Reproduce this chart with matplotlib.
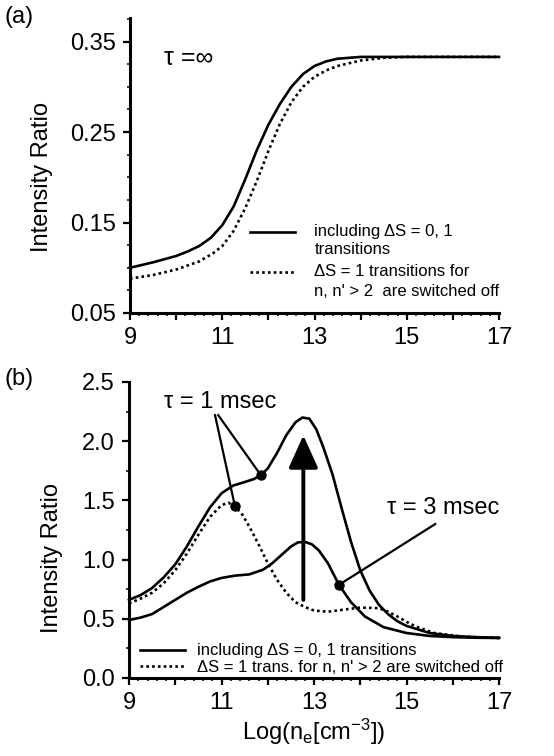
import numpy as np
import matplotlib
matplotlib.use("Agg")
import matplotlib.pyplot as plt
from matplotlib.ticker import MultipleLocator, FixedLocator, FuncFormatter

plt.rcParams["font.family"] = ["Liberation Sans", "DejaVu Sans"]
plt.rcParams["mathtext.default"] = "regular"

# panel (a): tau = infinity
xa_incl = [9, 9.5, 10, 10.25, 10.5, 10.75, 11, 11.25, 11.5, 11.75, 12, 12.25, 12.5,
           12.75, 13, 13.25, 13.5, 13.75, 14, 14.5, 15, 16, 17]
ya_incl = [0.100, 0.106, 0.113, 0.118, 0.124, 0.133, 0.147, 0.168, 0.198, 0.230, 0.258,
           0.281, 0.300, 0.314, 0.323, 0.328, 0.331, 0.332, 0.333, 0.333, 0.333, 0.333,
           0.333]
xa_off = [9, 9.5, 10, 10.5, 10.8, 11, 11.25, 11.5, 11.75, 12, 12.25, 12.5, 12.75,
          13, 13.25, 13.5, 14, 14.5, 15, 16, 17]
ya_off = [0.088, 0.092, 0.098, 0.107, 0.116, 0.124, 0.141, 0.166, 0.196, 0.229, 0.259,
          0.283, 0.300, 0.311, 0.318, 0.323, 0.329, 0.332, 0.333, 0.333, 0.333]

# panel (b): tau = 1 msec (both cases) and tau = 3 msec
xb_1ms = [9, 9.25, 9.5, 9.75, 10, 10.25, 10.5, 10.75, 11, 11.25, 11.5, 11.7, 11.85, 12,
          12.2, 12.4, 12.6, 12.75, 12.9, 13.05, 13.2, 13.4, 13.6, 13.8, 14, 14.2, 14.4,
          14.6, 14.8, 15, 15.5, 16, 16.5, 17]
yb_1ms = [0.66, 0.70, 0.76, 0.85, 0.96, 1.11, 1.28, 1.44, 1.56, 1.625, 1.655, 1.68,
          1.713, 1.77, 1.90, 2.05, 2.16, 2.20, 2.19, 2.10, 1.95, 1.72, 1.43, 1.15, 0.91,
          0.74, 0.62, 0.54, 0.48, 0.44, 0.38, 0.355, 0.345, 0.34]
xb_1ms_off = [9, 9.25, 9.5, 9.75, 10, 10.25, 10.5, 10.75, 11, 11.15, 11.29, 11.45, 11.6,
              11.8, 12, 12.2, 12.4, 12.6, 12.8, 13, 13.3, 13.6, 14, 14.4, 14.6, 14.8,
              15, 15.2, 15.6, 16.2, 17]
yb_1ms_off = [0.63, 0.67, 0.72, 0.80, 0.91, 1.05, 1.21, 1.36, 1.46, 1.48, 1.452, 1.38,
              1.28, 1.13, 0.97, 0.83, 0.72, 0.64, 0.60, 0.57, 0.56, 0.575, 0.595, 0.59,
              0.56, 0.52, 0.475, 0.435, 0.38, 0.35, 0.337]
xb_3ms = [9, 9.25, 9.5, 9.75, 10, 10.25, 10.5, 10.75, 11, 11.3, 11.6, 11.9, 12.1, 12.3,
          12.5, 12.65, 12.8, 12.95, 13.1, 13.3, 13.54, 13.8, 14.1, 14.5, 15, 15.5, 16,
          16.5, 17]
yb_3ms = [0.49, 0.51, 0.54, 0.60, 0.66, 0.72, 0.77, 0.815, 0.845, 0.865, 0.875, 0.915,
          0.97, 1.04, 1.11, 1.145, 1.15, 1.13, 1.08, 0.97, 0.787, 0.64, 0.52, 0.43,
          0.38, 0.355, 0.345, 0.34, 0.338]

# which points carry the annotation dots
mark_1ms = 12
mark_1ms_off = 10
mark_3ms = 20

x_ticks = [9, 11, 13, 15, 17]
ya_ticks = [0.05, 0.15, 0.25, 0.35]
yb_ticks = [0.0, 0.5, 1.0, 1.5, 2.0, 2.5]

leg_a = ["including \u0394S = 0, 1", "transitions",
         "\u0394S = 1 transitions for", "n, n' > 2  are switched off"]
leg_b = ["including \u0394S = 0, 1 transitions",
         "\u0394S = 1 trans. for n, n' > 2 are switched off"]

DOT = (0, (1, 1.2))
FS = 17
LW = 1.9


def style_axes(ax):
    for s in ["top", "right"]:
        ax.spines[s].set_visible(False)
    for s in ["left", "bottom"]:
        ax.spines[s].set_linewidth(2.2)
    ax.set_xlim(9, 17)
    ax.xaxis.set_major_locator(MultipleLocator(1))
    ax.xaxis.set_major_formatter(
        FuncFormatter(lambda v, p: f"{v:.0f}" if round(v) in x_ticks else ""))
    ax.xaxis.set_minor_locator(MultipleLocator(0.2))
    ax.tick_params(which="major", direction="out", length=5, width=1.6,
                   labelsize=FS, pad=5)
    ax.tick_params(which="minor", direction="out", length=2.5, width=1.1)


fig = plt.figure(figsize=(5.54, 7.56), dpi=100)

# ---- panel (a)
ax1 = fig.add_axes([130 / 554, 1 - 313 / 756, 369 / 554, 295 / 756])
style_axes(ax1)
ax1.plot(xa_incl, ya_incl, color="k", lw=LW, clip_on=False)
ax1.plot(xa_off, ya_off, color="k", lw=LW, ls=DOT, clip_on=False)
ax1.set_ylim(0.05, 0.376)
ax1.yaxis.set_major_locator(FixedLocator(ya_ticks))
ax1.yaxis.set_major_formatter(FuncFormatter(lambda v, p: f"{v:.2f}"))
ax1.yaxis.set_minor_locator(MultipleLocator(0.025))
ax1.set_ylabel("Intensity Ratio", fontsize=FS)
ax1.yaxis.set_label_coords(-0.209, 0.461)
ax1.text(10.28, 0.332, "\u03c4 =\u221e", fontsize=18, ha="center", va="center")

# hand-made legend, handle next to the first line of each entry
for y0, ls in [(0.276, "-"), (0.140, DOT)]:
    ax1.plot([0.325, 0.447], [y0, y0], color="k", lw=LW, ls=ls,
             transform=ax1.transAxes)
for y0, txt in zip([0.276, 0.214, 0.140, 0.072], leg_a):
    ax1.text(0.5, y0, txt, fontsize=12, va="center", transform=ax1.transAxes)

# ---- panel (b)
ax2 = fig.add_axes([129 / 554, 1 - 678 / 756, 370 / 554, 296 / 756])
style_axes(ax2)
l1, = ax2.plot(xb_1ms, yb_1ms, color="k", lw=LW, clip_on=False)
l2, = ax2.plot(xb_1ms_off, yb_1ms_off, color="k", lw=LW, ls=DOT, clip_on=False)
ax2.plot(xb_3ms, yb_3ms, color="k", lw=LW, clip_on=False)
ax2.set_ylim(0, 2.5)
ax2.yaxis.set_major_locator(FixedLocator(yb_ticks))
ax2.yaxis.set_major_formatter(FuncFormatter(lambda v, p: f"{v:.1f}"))
ax2.yaxis.set_minor_locator(MultipleLocator(0.25))
ax2.set_ylabel("Intensity Ratio", fontsize=FS)
ax2.yaxis.set_label_coords(-0.178, 0.405)
ax2.set_xlabel("Log(n$_e$[cm$^{-3}$])", fontsize=FS, labelpad=2)

# annotation dots and pointer lines
p1 = (xb_1ms[mark_1ms], yb_1ms[mark_1ms])
p2 = (xb_1ms_off[mark_1ms_off], yb_1ms_off[mark_1ms_off])
p3 = (xb_3ms[mark_3ms], yb_3ms[mark_3ms])
ax2.plot([10.93, p1[0]], [2.22, p1[1]], color="k", lw=1.6)
ax2.plot([10.86, p2[0]], [2.22, p2[1]], color="k", lw=1.6)
ax2.plot([15.62, p3[0]], [1.30, p3[1]], color="k", lw=1.6)
for p in (p1, p2, p3):
    ax2.plot(*p, "o", color="k", ms=6.5)
ax2.text(10.97, 2.33, "\u03c4 = 1 msec", fontsize=FS, ha="center", va="center")
ax2.text(15.79, 1.44, "\u03c4 = 3 msec", fontsize=FS, ha="center", va="center")

ax2.annotate("", xy=(12.77, 2.05), xytext=(12.77, 0.66),
             arrowprops=dict(arrowstyle="-|>,head_length=0.8,head_width=0.36",
                             lw=2.8, color="k", mutation_scale=25,
                             shrinkA=0, shrinkB=0))

ax2.legend([l1, l2], leg_b, loc="lower left", bbox_to_anchor=(0.03, 0.01),
           frameon=False, fontsize=12, handlelength=2.7, handletextpad=0.7,
           labelspacing=0.1, borderpad=0, borderaxespad=0)

fig.text(0.008, 1 - 6 / 756, "(a)", fontsize=FS, va="top")
fig.text(0.008, 1 - 368 / 756, "(b)", fontsize=FS, va="top")

fig.savefig("out.png", dpi=100)
